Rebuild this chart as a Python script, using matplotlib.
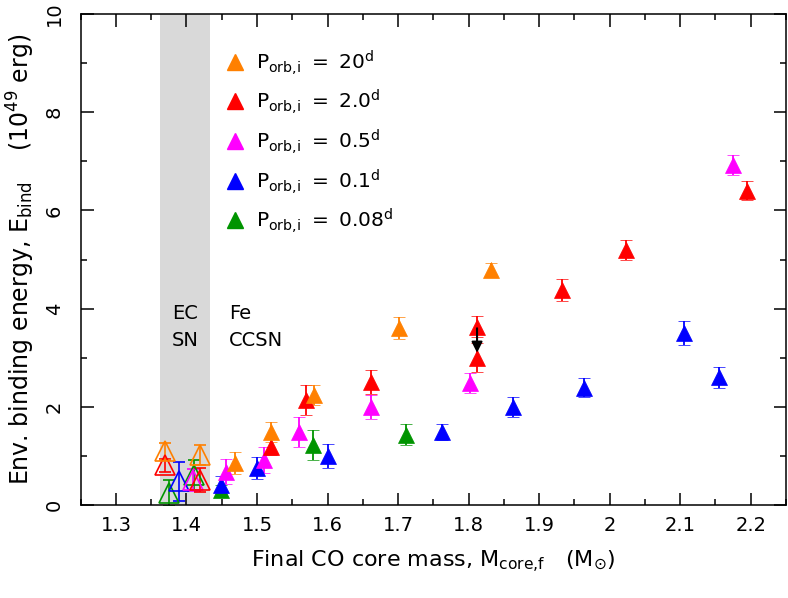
import matplotlib
matplotlib.use('Agg')
import matplotlib.pyplot as plt
from matplotlib.ticker import MultipleLocator

# 최종 CO 코어 질량 vs 외피 결합 에너지
# 채운 삼각형 / 빈 삼각형(EC SN 영역)

plt.rcParams['font.family'] = ['DejaVu Sans']
plt.rcParams['mathtext.fontset'] = 'dejavusans'

# P_orb,i = 20 d
m20 = [1.469, 1.52, 1.581, 1.701, 1.832]
e20 = [0.855, 1.49, 2.24, 3.6, 4.79]
d20 = [0.22, 0.2, 0.2, 0.22, 0.14]
m20_open = [1.369, 1.419]
e20_open = [1.09, 1.02]
d20_open = [0.17, 0.2]

# P_orb,i = 2.0 d
m2 = [1.52, 1.569, 1.661, 1.812, 1.812, 1.933, 2.023, 2.195]
e2 = [1.19, 2.14, 2.51, 3.63, 3.0, 4.38, 5.19, 6.40]
d2 = [0.17, 0.3, 0.25, 0.21, 0.29, 0.22, 0.2, 0.19]
m2_open = [1.369, 1.419]
e2_open = [0.81, 0.51]
d2_open = [0.13, 0.24]

# P_orb,i = 0.5 d
m05 = [1.456, 1.51, 1.559, 1.661, 1.802, 2.175]
e05 = [0.68, 0.92, 1.49, 2.0, 2.48, 6.92]
d05 = [0.25, 0.26, 0.3, 0.24, 0.2, 0.2]
m05_open = [1.409]
e05_open = [0.51]
d05_open = [0.23]

# P_orb,i = 0.1 d
m01 = [1.449, 1.5, 1.601, 1.762, 1.863, 1.963, 2.105, 2.155]
e01 = [0.41, 0.75, 1.0, 1.49, 2.0, 2.39, 3.5, 2.6]
d01 = [0.18, 0.22, 0.25, 0.16, 0.2, 0.2, 0.25, 0.21]
m01_open = [1.389]
e01_open = [0.48]
d01_open = [0.39]

# P_orb,i = 0.08 d
m008 = [1.449, 1.58, 1.711]
e008 = [0.31, 1.22, 1.43]
d008 = [0.1, 0.3, 0.21]
m008_open = [1.375, 1.41]
e008_open = [0.24, 0.61]
d008_open = [0.26, 0.3]

# 화살표 (1.81 M_sun, 3.6 -> 3.1)
arrow_m = 1.812
arrow_from = 3.6
arrow_to = 3.1

ecsn_band = (1.363, 1.434)

series = [
    ('0.08', '#009400', m008, e008, d008, m008_open, e008_open, d008_open),
    ('0.1', '#0000FF', m01, e01, d01, m01_open, e01_open, d01_open),
    ('0.5', '#FF00FF', m05, e05, d05, m05_open, e05_open, d05_open),
    ('2.0', '#FF0000', m2, e2, d2, m2_open, e2_open, d2_open),
    ('20', '#FF8000', m20, e20, d20, m20_open, e20_open, d20_open),
]

fig = plt.figure(figsize=(7.88, 5.98), dpi=100)
ax = fig.add_axes([0.1024, 0.1555, 0.895, 0.821])

ax.axvspan(*ecsn_band, color='#D9D9D9', lw=0, zorder=0)

for lab, col, m, e, d, mo, eo, do in series:
    ax.errorbar(mo, eo, yerr=do, fmt='^', ms=14, mfc='none', mec=col, mew=1.2,
                ecolor=col, elinewidth=1.2, capsize=4.5, capthick=1.2, zorder=2)
    ax.errorbar(m, e, yerr=d, fmt='^', ms=11.5, mfc=col, mec=col, mew=0.5,
                ecolor=col, elinewidth=1.3, capsize=4.5, capthick=1.3, zorder=3)

ax.annotate('', xy=(arrow_m, arrow_to), xytext=(arrow_m, arrow_from),
            arrowprops=dict(arrowstyle='-|>', color='k', lw=1.5,
                            mutation_scale=16, shrinkA=0, shrinkB=0),
            zorder=5)

# 범례 (수동 배치)
legend_order = [4, 3, 2, 1, 0]
for i, k in enumerate(legend_order):
    lab, col = series[k][0], series[k][1]
    yy = 0.903 - i * 0.0808
    ax.plot([0.219], [yy], '^', ms=11.5, color=col, transform=ax.transAxes)
    ax.text(0.249, yy - 0.017,
            r'$\mathrm{P_{orb{,}i}\ =\ ' + lab + r'^{d}}$',
            transform=ax.transAxes, fontsize=14.5, va='baseline', ha='left')

ax.text(1.398, 3.63, 'EC\nSN', fontsize=14, ha='center', va='center', linespacing=1.55)
ax.text(1.460, 3.63, 'Fe\nCCSN', fontsize=14, ha='left', va='center', linespacing=1.55)

ax.set_xlim(1.25, 2.25)
ax.set_ylim(0, 10)
ax.xaxis.set_major_locator(MultipleLocator(0.1))
ax.xaxis.set_minor_locator(MultipleLocator(0.05))
ax.yaxis.set_major_locator(MultipleLocator(2))
ax.yaxis.set_minor_locator(MultipleLocator(1))
ax.set_xticks([1.3, 1.4, 1.5, 1.6, 1.7, 1.8, 1.9, 2.0, 2.1, 2.2])
ax.set_xticklabels(['1.3', '1.4', '1.5', '1.6', '1.7', '1.8', '1.9', '2', '2.1', '2.2'])
ax.set_yticks([0, 2, 4, 6, 8, 10])
ax.set_yticklabels(['0', '2', '4', '6', '8', '10'])

ax.tick_params(which='both', direction='in', top=True, right=True, width=1.1)
ax.tick_params(which='major', length=9)
ax.tick_params(which='minor', length=4.5)
ax.tick_params(axis='x', labelsize=14, pad=8)
ax.tick_params(axis='y', labelsize=14, pad=12, labelrotation=90)
for t in ax.get_yticklabels():
    t.set_va('center')
for s in ax.spines.values():
    s.set_linewidth(1.1)

ax.set_xlabel(r'Final CO core mass, M$_{\mathrm{core{,}f}}$   (M$_{\odot}$)', fontsize=16)
ax.set_ylabel(r'Env. binding energy, E$_{\mathrm{bind}}$    (10$^{49}$ erg)', fontsize=17)
ax.xaxis.set_label_coords(0.5, -0.09)
ax.yaxis.set_label_coords(-0.062, 0.5)

plt.savefig('out.png', dpi=100)
